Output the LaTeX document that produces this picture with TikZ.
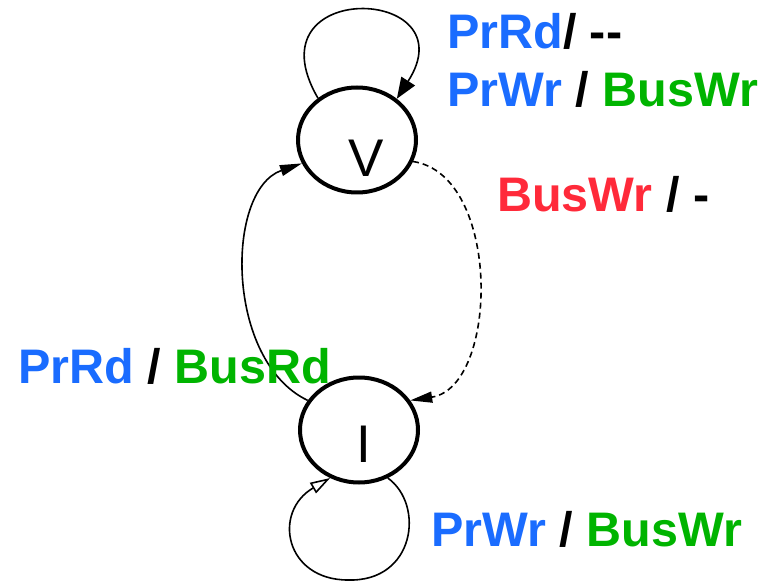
\documentclass[tikz,border=0pt]{standalone}
\usepackage{fontspec}
\setmainfont{Liberation Sans}
\usetikzlibrary{arrows.meta,shapes.geometric}
\definecolor{Proc}{HTML}{1A6CFF}
\definecolor{Bus}{HTML}{00B400}
\definecolor{Snoop}{HTML}{FF2A3A}
\tikzset{
  state/.style={ellipse,draw=black,line width=4bp,minimum width=118bp,minimum height=105bp,inner sep=0pt},
  letter/.style={font=\fontsize{53bp}{60bp}\selectfont,inner sep=0pt},
  trans/.style={-{Triangle[length=22bp,width=11bp]},line width=1.6bp},
  act/.style={anchor=base west,inner sep=0pt,font=\fontsize{48.5bp}{58bp}\selectfont\bfseries},
}
\begin{document}
\begin{tikzpicture}[x=1bp,y=-1bp,line join=round]
\useasboundingbox (0,0) rectangle (776,582);
% the two states of the write-through protocol
\node[state,label={[letter,shift={(9bp,-18bp)}]center:V}] (valid) at (357,140) {};
\node[state,label={[letter,shift={(5bp,-14bp)}]center:I}] (invalid) at (359,430) {};
% self loops
\draw[-{Triangle[length=21bp,width=16bp]},line width=1.6bp]
  (valid.133) .. controls (248,-22) and (470,-15) .. (valid.46);
\draw[-{Triangle[open,length=20bp,width=12bp]},line width=1.6bp]
  (invalid.301) .. controls (425,505) and (415,582) .. (348,580)
  .. controls (285,580) and (272,512) .. (invalid.239);
% transitions between the states
\draw[trans] (invalid.150) .. controls (225,361) and (225,190) .. (valid.203);
\draw[trans,dash pattern=on 6bp off 4bp] (valid.339) .. controls (502,175) and (499,387) .. (invalid.30);
% actions
\node[act] (rdhit) at (447,49) {\textcolor{Proc}{PrRd}/ {-}{-}};
\node[act] (wrhit) at (447,107) {\textcolor{Proc}{PrWr} / \textcolor{Bus}{BusWr}};
\node[act] (snoop) at (497,212) {\textcolor{Snoop}{BusWr} / -};
\node[act] (rdmiss) at (18,383) {\textcolor{Proc}{PrRd} / \textcolor{Bus}{BusRd}};
\node[act] (wrmiss) at (431,546) {\textcolor{Proc}{PrWr} / \textcolor{Bus}{BusWr}};
\end{tikzpicture}
\end{document}
